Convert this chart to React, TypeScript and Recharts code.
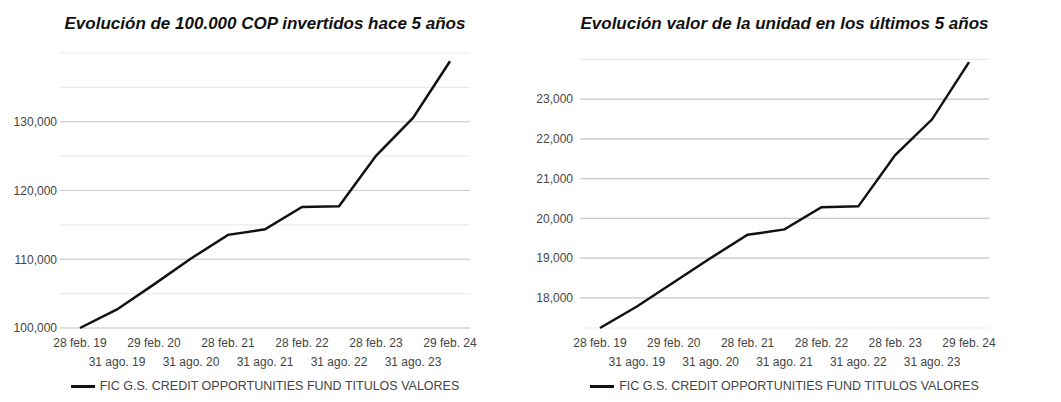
import { CartesianGrid, Line, LineChart, ReferenceLine, XAxis, YAxis } from "recharts";

const dates = [
  "28 feb. 19",
  "31 ago. 19",
  "29 feb. 20",
  "31 ago. 20",
  "28 feb. 21",
  "31 ago. 21",
  "28 feb. 22",
  "31 ago. 22",
  "28 feb. 23",
  "31 ago. 23",
  "29 feb. 24",
];

const investedValues = [100000, 102700, 106350, 110100, 113550, 114350, 117600, 117700, 125050, 130550, 138800];
const unitValues = [17240, 17780, 18390, 19000, 19585, 19720, 20280, 20300, 21590, 22490, 23930];

const investedTicks = [100000, 105000, 110000, 115000, 120000, 125000, 130000, 135000, 140000];
const investedLabeled = [100000, 110000, 120000, 130000];
const unitTicks = [17500, 18000, 18500, 19000, 19500, 20000, 20500, 21000, 21500, 22000, 22500, 23000, 23500, 24000];
const unitLabeled = [18000, 19000, 20000, 21000, 22000, 23000];

const seriesName = "FIC G.S. CREDIT OPPORTUNITIES FUND TITULOS VALORES";
const FONT = "Arial, 'Liberation Sans', sans-serif";

const fmt = (v: number) => v.toLocaleString("en-US");

function XTick({ x, y, payload, index }: any) {
  return (
    <text x={x} y={y + (index % 2 ? 38 : 18.5)} textAnchor="middle" fill="#444" fontSize={12} fontFamily={FONT}>
      {payload.value}
    </text>
  );
}

function FundChart({
  title,
  values,
  ticks,
  labeled,
  domain,
  plotTop,
  plotLeft,
  plotRight,
  width,
  labelGap,
}: {
  title: string;
  values: number[];
  ticks: number[];
  labeled: number[];
  domain: [number | string, number | string];
  plotTop: number;
  plotLeft: number;
  plotRight: number;
  width: number;
  labelGap: number;
}) {
  const data = dates.map((d, i) => ({ date: d, value: values[i] }));
  const center = (plotLeft + plotRight) / 2;

  const YTick = ({ y, payload }: any) =>
    labeled.includes(payload.value) ? (
      <text x={plotLeft - labelGap} y={y + 4.3} textAnchor="end" fill="#444" fontSize={12} fontFamily={FONT}>
        {fmt(payload.value)}
      </text>
    ) : null;

  return (
    <div style={{ position: "relative", width, height: 402 }}>
      <div
        style={{
          position: "absolute",
          left: center - 260,
          width: 520,
          top: 14,
          textAlign: "center",
          fontFamily: FONT,
          fontSize: 17,
          fontWeight: "bold",
          fontStyle: "italic",
          color: "#111",
          whiteSpace: "nowrap",
        }}
      >
        {title}
      </div>
      <LineChart
        width={width}
        height={402}
        data={data}
        margin={{ top: plotTop, right: width - plotRight, bottom: 34, left: 0 }}
      >
        <CartesianGrid vertical={false} stroke="#ebebeb" strokeWidth={1.2} />
        {labeled.map((v) => (
          <ReferenceLine key={v} y={v} stroke="#cccccc" strokeWidth={1.2} />
        ))}
        <XAxis
          dataKey="date"
          interval={0}
          axisLine={false}
          tickLine={false}
          tickSize={0}
          tickMargin={0}
          height={40}
          padding={{ left: 20, right: 20 }}
          tick={<XTick />}
        />
        <YAxis
          width={plotLeft}
          domain={domain}
          ticks={ticks}
          axisLine={false}
          tickLine={false}
          tick={<YTick />}
        />
        <Line type="linear" dataKey="value" stroke="#111" strokeWidth={2.5} dot={false} isAnimationActive={false} />
      </LineChart>
      <div
        style={{
          position: "absolute",
          left: center - 200,
          width: 400,
          top: 379,
          display: "flex",
          justifyContent: "center",
          alignItems: "center",
          fontFamily: FONT,
          fontSize: 12.5,
          color: "#444",
          whiteSpace: "nowrap",
        }}
      >
        <span style={{ display: "inline-block", width: 24, height: 3, background: "#111", marginRight: 5 }} />
        {seriesName}
      </div>
    </div>
  );
}

export default function App() {
  return (
    <div style={{ position: "absolute", left: 0, top: 0, width: 1061, height: 402, display: "flex", background: "#fff" }}>
      <FundChart
        title="Evolución de 100.000 COP invertidos hace 5 años"
        values={investedValues}
        ticks={investedTicks}
        labeled={investedLabeled}
        domain={[100000, 140000]}
        plotTop={53}
        plotLeft={60}
        plotRight={470}
        width={530}
        labelGap={3}
      />
      <FundChart
        title="Evolución valor de la unidad en los últimos 5 años"
        values={unitValues}
        ticks={unitTicks}
        labeled={unitLabeled}
        domain={["dataMin", 24000]}
        plotTop={59.3}
        plotLeft={50}
        plotRight={459}
        width={531}
        labelGap={7}
      />
    </div>
  );
}
